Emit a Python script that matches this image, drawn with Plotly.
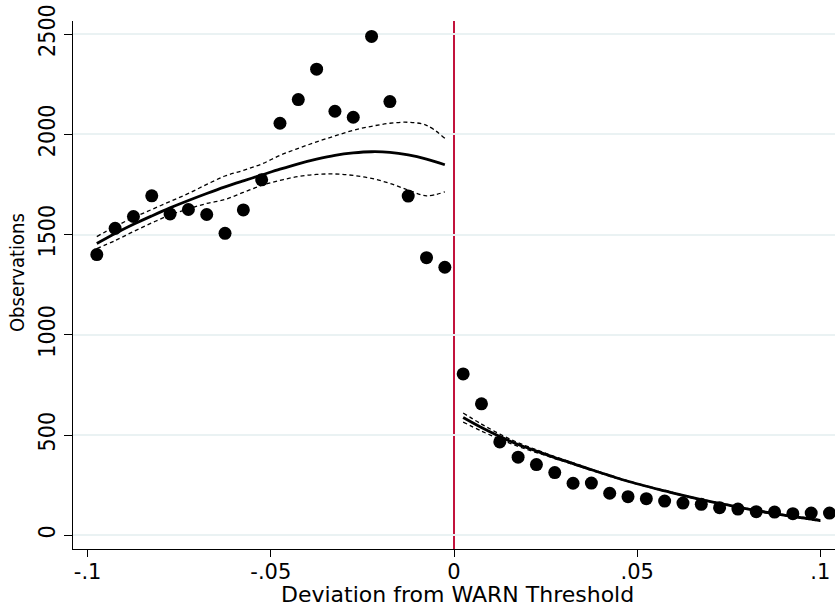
import plotly.graph_objects as go

# Binned observations
left_x = [-0.0975, -0.0925, -0.0875, -0.0825, -0.0775, -0.0725, -0.0675, -0.0625, -0.0575, -0.0525,
          -0.0475, -0.0425, -0.0375, -0.0325, -0.0275, -0.0225, -0.0175, -0.0125, -0.0075, -0.0025]
left_obs = [1400, 1531, 1590, 1693, 1603, 1625, 1600, 1506, 1623, 1773,
            2055, 2173, 2325, 2115, 2085, 2488, 2163, 1692, 1385, 1337]

right_x = [0.0025, 0.0075, 0.0125, 0.0175, 0.0225, 0.0275, 0.0325, 0.0375, 0.0425, 0.0475,
           0.0525, 0.0575, 0.0625, 0.0675, 0.0725, 0.0775, 0.0825, 0.0875, 0.0925, 0.0975, 0.1025]
right_obs = [805, 656, 466, 390, 353, 313, 260, 261, 210, 193,
             183, 171, 161, 155, 138, 131, 118, 116, 108, 111, 111]

# Fitted polynomial and confidence bands
left_fit = [1455, 1505, 1551, 1593, 1633, 1670, 1705, 1738, 1768, 1797,
            1826, 1853, 1876, 1895, 1907, 1913, 1910, 1897, 1876, 1848]
left_hi = [1490, 1540, 1585, 1625, 1665, 1705, 1750, 1792, 1820, 1852,
           1895, 1930, 1962, 1992, 2020, 2040, 2055, 2060, 2045, 1980]
left_lo = [1430, 1470, 1515, 1558, 1598, 1628, 1655, 1675, 1710, 1745,
           1770, 1790, 1800, 1802, 1795, 1780, 1755, 1722, 1693, 1713]

right_fit_x = [0.0025, 0.0075, 0.0125, 0.0175, 0.0225, 0.0275, 0.0325, 0.0375, 0.0425, 0.0475,
               0.0525, 0.0575, 0.0625, 0.0675, 0.0725, 0.0775, 0.0825, 0.0875, 0.0925, 0.0975, 0.1]
right_fit = [588, 538, 493, 453, 420, 388, 358, 327, 298, 270,
             245, 222, 199, 178, 160, 141, 124, 108, 94, 81, 74]
right_hi = [610, 555, 505, 462, 427, 393, 362, 330, 301, 272,
            247, 224, 201, 180, 162, 143, 127, 111, 97, 85, 78]
right_lo = [565, 520, 480, 444, 413, 383, 354, 324, 295, 268,
            243, 220, 197, 176, 158, 139, 121, 105, 91, 77, 70]

x_ticks = [-0.1, -0.05, 0, 0.05, 0.1]
x_ticklabels = ["-.1", "-.05", "0", ".05", ".1"]
y_ticks = [0, 500, 1000, 1500, 2000, 2500]
x_title = "Deviation from WARN Threshold"
y_title = "Observations"

FONT = "DejaVu Sans"
FONT_COND = "DejaVu Sans Condensed, DejaVu Sans"
fig = go.Figure()

dash_style = dict(color="black", width=1.3, dash="4px,3px")
for xs, ys in [(left_x, left_hi), (left_x, left_lo), (right_fit_x, right_hi), (right_fit_x, right_lo)]:
    fig.add_trace(go.Scatter(x=xs, y=ys, mode="lines", line=dash_style, line_shape="spline",
                             showlegend=False, hoverinfo="skip"))
for xs, ys in [(left_x, left_fit), (right_fit_x, right_fit)]:
    fig.add_trace(go.Scatter(x=xs, y=ys, mode="lines", line=dict(color="black", width=2.8),
                             line_shape="spline", showlegend=False))

fig.add_trace(go.Scatter(x=left_x + right_x, y=left_obs + right_obs, mode="markers",
                         marker=dict(color="black", size=13), showlegend=False, cliponaxis=False))

fig.add_shape(type="line", x0=0, x1=0, y0=0, y1=1, xref="x", yref="paper",
              line=dict(color="#C2133C", width=2), layer="below")

fig.add_annotation(text=x_title, xref="paper", yref="paper", x=0.504, y=-0.087,
                   xanchor="center", yanchor="middle", showarrow=False,
                   font=dict(family=FONT, size=22, color="black"))
fig.add_annotation(text=y_title, xref="paper", yref="paper", x=-0.0725, y=0.524,
                   xanchor="center", yanchor="middle", showarrow=False, textangle=-90,
                   font=dict(family=FONT_COND, size=20, color="black"))

fig.update_layout(
    width=835, height=607,
    margin=dict(l=73, r=0, t=21, b=58),
    paper_bgcolor="white", plot_bgcolor="white",
    font=dict(family=FONT, color="black", size=20),
    showlegend=False,
)
fig.update_xaxes(
    range=[-0.104, 0.104], tickvals=x_ticks, ticktext=x_ticklabels,
    showline=True, linecolor="black", linewidth=1.3,
    ticks="outside", ticklen=7, tickwidth=1.3, tickcolor="black",
    showgrid=False, zeroline=False, ticklabelstandoff=-3,
    tickfont=dict(size=21),
)
fig.update_yaxes(
    range=[-68, 2565], tickvals=y_ticks, tickangle=-90,
    showline=True, linecolor="black", linewidth=1.3,
    ticks="outside", ticklen=8, tickwidth=1.3, tickcolor="black",
    showgrid=True, gridcolor="#EAF2F3", gridwidth=1.5, zeroline=False,
    tickfont=dict(family=FONT_COND, size=23),
)

fig.write_html("out.html")
